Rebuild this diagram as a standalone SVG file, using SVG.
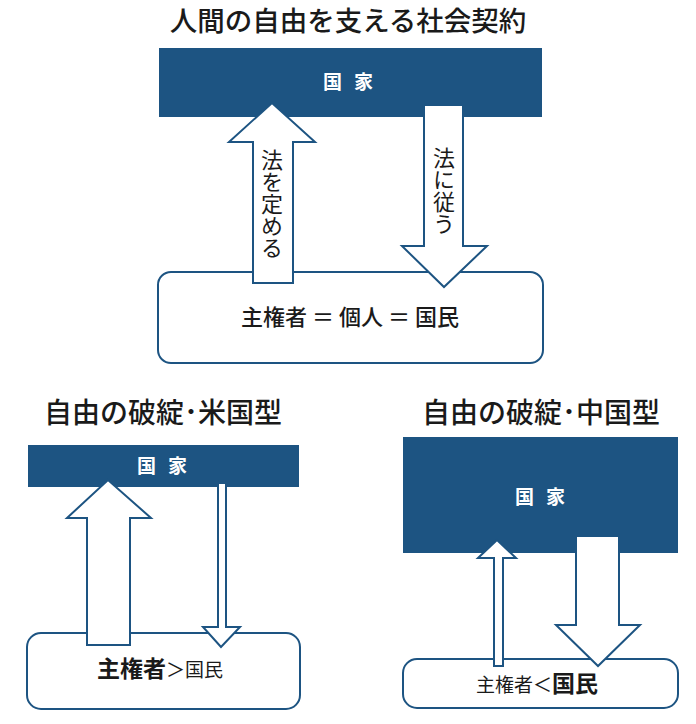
<svg xmlns="http://www.w3.org/2000/svg" width="696" height="724" viewBox="0 0 696 724">
<style>
text{font-family:"Noto Sans CJK JP","Noto Sans",sans-serif;fill:#1a1a1a}
.title{font-size:27.5px;font-weight:500;text-anchor:middle}
.title2{font-size:28px;font-weight:500;text-anchor:middle}
.state{fill:#1d5482}
.stxt{fill:#fff;font-size:19px;font-weight:700;text-anchor:middle;letter-spacing:12px}
.box{fill:#fff;stroke:#1d5482;stroke-width:2}
.arr{fill:#fff;stroke:#1d5482;stroke-width:2;stroke-linejoin:miter}
.vt{writing-mode:vertical-rl;font-size:22px;text-anchor:middle}
.lbl{font-size:22px;font-weight:500;text-anchor:middle}
</style>
<rect width="696" height="724" fill="#fff"/>
<text class="title" x="348" y="31">人間の自由を支える社会契約</text>
<text class="title2" x="163" y="423">自由の破綻･米国型</text>
<text class="title2" x="541" y="423">自由の破綻･中国型</text>

<g id="state1"><rect class="state" x="159" y="48" width="383" height="69"/><text class="stxt" x="354" y="89">国家</text></g>
<g id="people1"><rect class="box" x="158" y="272" width="385" height="91" rx="13"/><text class="lbl" x="350" y="325">主権者 ＝ 個人 ＝ 国民</text></g>

<g id="state2"><rect class="state" x="28" y="445" width="271" height="42"/><text class="stxt" x="168" y="473">国家</text></g>
<g id="people2"><rect class="box" x="27" y="633" width="273" height="76" rx="14"/><text x="160" y="677" style="font-size:19px;text-anchor:middle"><tspan style="font-size:23px;font-weight:700">主権者</tspan>＞国民</text></g>

<g id="state3"><rect class="state" x="403" y="437" width="275" height="116"/><text class="stxt" x="546" y="504">国家</text></g>
<g id="people3"><rect class="box" x="403" y="659" width="275" height="49" rx="14"/><text x="537" y="692" style="font-size:19px;text-anchor:middle">主権者＜<tspan style="font-size:23px;font-weight:700">国民</tspan></text></g>

<g id="connectors">
<polygon class="arr" points="253,283 253,142 229,142 272,103 315,142 293,142 293,283"/>
<text class="vt" x="272" y="204">法を定める</text>
<polygon class="arr" points="424,105 463,105 463,246 487,246 444,287 402,246 424,246"/>
<text class="vt" x="444" y="191">法に従う</text>

<polygon class="arr" points="87,645 87,518 67,518 108,480 151,518 130,518 130,645"/>
<polygon class="arr" points="218,483 226,483 226,627 240,627 221,647 203,627 218,627"/>

<polygon class="arr" points="494,666 494,558 478,558 497,540 516,558 503,558 503,666"/>
<polygon class="arr" points="576,536 619,536 619,625 640,625 598,666 556,625 576,625"/>
</g>
</svg>
